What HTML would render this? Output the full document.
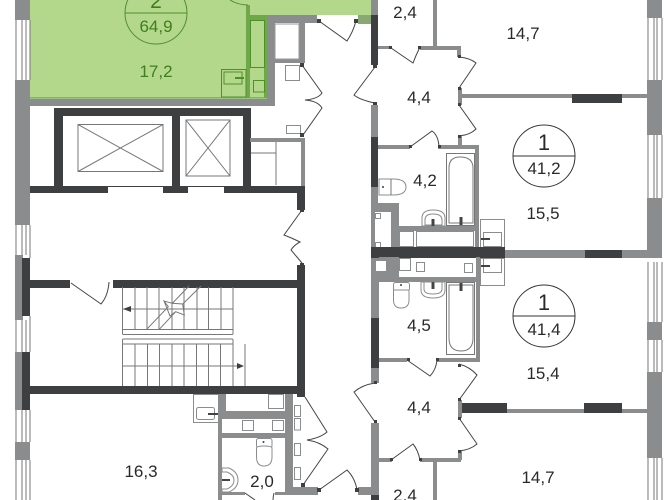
<!DOCTYPE html>
<html><head><meta charset="utf-8"><style>
html,body{margin:0;padding:0;background:#fff}
svg{display:block}
text{font-family:"Liberation Sans",sans-serif;font-size:17px;fill:#2a2a2c;text-anchor:middle}
.g{fill:#8b8c8e}.d{fill:#3e3f41}
.t{fill:none;stroke:#777;stroke-width:1}
.b{fill:#fff;stroke:#8b8c8e;stroke-width:1}
.dr{fill:none;stroke:#444;stroke-width:1}
.n{fill:#3e3f41}
.gl{fill:none;stroke:#4f8f2a;stroke-width:1}
</style></head><body>
<svg width="672" height="500" viewBox="0 0 672 500" xmlns="http://www.w3.org/2000/svg">
<!-- green apartment -->
<rect x="30" y="0" width="218" height="98" fill="#b3d88c"/>
<rect x="248" y="0" width="124" height="15" fill="#b3d88c"/>
<rect x="248" y="15" width="18" height="83" fill="#b3d88c"/>
<rect x="246" y="5" width="4" height="93" fill="#6fa84a"/>
<rect x="250" y="15" width="17" height="5" fill="#6fa84a"/>
<rect x="264" y="20" width="3" height="78" fill="#6fa84a"/>
<rect x="30" y="97" width="237" height="2" fill="#6fa84a" opacity=".7"/>
<rect x="250.500" y="20.500" width="14" height="47" class="gl"/>
<rect x="253.500" y="80.500" width="11" height="11.500" class="gl"/>
<rect x="221.500" y="69.500" width="24.500" height="27.500" class="gl"/>
<rect x="224" y="72" width="18" height="12" class="gl"/>
<path d="M235 78H244" stroke="#4f8f2a" stroke-width="2"/>
<circle cx="156" cy="13" r="31" class="gl"/>
<path d="M125 13H187" class="gl"/>
<text x="156" y="8" style="font-size:21px;fill:#3f7f1b">2</text>
<text x="156" y="32" style="fill:#3f7f1b">64,9</text>
<text x="156" y="77" style="fill:#3f7f1b">17,2</text>
<path d="M230 0Q238 5 248 5" class="gl"/>

<!-- left facade -->
<rect x="15" y="0" width="15" height="20" class="g"/>
<rect x="15" y="80" width="15" height="145" class="g"/>
<rect x="15" y="255" width="8" height="65" class="g"/>
<rect x="22" y="258" width="8" height="58" class="d"/>
<rect x="15" y="352" width="8" height="58" class="g"/>
<rect x="22" y="352" width="8" height="58" class="d"/>
<rect x="15" y="442" width="15" height="18" class="g"/>
<path d="M16 20V80M22 20V80M26 20V80M30 20V80M16 225V255M22 225V255M26 225V255M30 225V258M16 320V352M22 320V352M26 320V352M30 316V352M16 410V442M22 410V442M26 410V442M30 410V442M16 460V500M22 460V500M26 460V500M30 460V500" class="t"/>

<!-- top centre walls -->
<rect x="30" y="99" width="244" height="7" class="g"/>
<rect x="267" y="15" width="8" height="91" class="g"/>
<rect x="267" y="15" width="50" height="8" class="g"/>
<rect x="299" y="22" width="6" height="41" class="g"/>
<rect x="274" y="59" width="28" height="4" class="g"/>
<rect x="275" y="24" width="24" height="35" fill="#fff" stroke="#999" stroke-width="1"/>
<rect x="285.500" y="65.500" width="14" height="15" class="b"/>
<rect x="286.500" y="125.500" width="14" height="8" class="b"/>

<!-- lifts -->
<rect x="54" y="108" width="9" height="85" class="d"/>
<rect x="54" y="108" width="197" height="8" class="d"/>
<rect x="172" y="116" width="8" height="72" class="d"/>
<rect x="243" y="108" width="8" height="85" class="d"/>
<rect x="30" y="186" width="275" height="7" class="d"/>
<rect x="108" y="187" width="55" height="6" fill="#fff"/>
<rect x="188" y="187" width="36" height="6" fill="#fff"/>
<rect x="78" y="124.500" width="85" height="47" class="t"/>
<path d="M78 124.500L163 171.500M163 124.500L78 171.500" class="t"/>
<rect x="186" y="120" width="44" height="56" class="t"/>
<path d="M186 120L230 176M230 120L186 176" class="t"/>
<rect x="250" y="138" width="55" height="4" class="g"/>
<rect x="301" y="138" width="4" height="48" class="g"/>
<path d="M251 153H276M276 142V185" class="t"/>
<rect x="297" y="186" width="8" height="24" class="d"/>

<!-- stairs -->
<rect x="30" y="280" width="40" height="8" class="d"/>
<rect x="113" y="280" width="185" height="8" class="d"/>
<rect x="297" y="265" width="8" height="132" class="d"/>
<rect x="23" y="386" width="282" height="8" class="d"/>
<path d="M122.500 287V330M135 287V330M147 287V330M159 287V330M172 287V330M184 287V330M197 287V330M208.500 287V330M221 287V330M233 287V330M122 309H233" class="t"/>
<rect x="122.500" y="329.500" width="110.500" height="5" rx="1" class="t"/>
<rect x="122.500" y="339" width="110.500" height="5" rx="1" class="t"/>
<path d="M122.500 344V386M135 344V386M147.500 344V386M159.500 344V386M172 344V386M184 344V386M196.500 344V386M208.500 344V386M220.500 344V386M233 344V386M122 366H238M245 344V386" class="t"/>
<path d="M146.700 329.300L168.300 306.700L164 301L172.300 303.300L189 286M201 286L182.700 304L184.300 315L175.700 311.700L159.300 329.300M164 301L170 316L175.700 311.700M172.300 303.300L182.700 304" class="t"/>
<path d="M123 309L131 306V312Z" class="n"/>
<path d="M244 366L237 363V369Z" class="n"/>

<!-- lower centre block -->
<rect x="193.500" y="394.500" width="25" height="28" class="b"/>
<rect x="196.500" y="407.500" width="18" height="12" rx="2" class="b"/>
<path d="M208 414H218" stroke="#444" stroke-width="2"/>
<rect x="218" y="394" width="8" height="25" class="g"/>
<rect x="218" y="394" width="4" height="106" class="g"/>
<rect x="285" y="394" width="8" height="96" class="g"/>
<rect x="218" y="411" width="75" height="8" class="g"/>
<rect x="218" y="433" width="70" height="5" class="g"/>
<rect x="268.500" y="394.500" width="15" height="14" class="b"/>
<rect x="242.500" y="420.500" width="11" height="10" class="b"/>
<rect x="272.500" y="420.500" width="11" height="10" class="b"/>
<rect x="294.500" y="405.500" width="6" height="11" class="b"/>
<rect x="294.500" y="418.500" width="6" height="11.500" class="b"/>
<rect x="294.500" y="443.500" width="6" height="12" class="b"/>
<rect x="294.500" y="467.500" width="6" height="12" class="b"/>
<rect x="256.500" y="438.500" width="15.500" height="9" rx="2" class="b"/>
<path d="M256.500 448Q256.500 446 264 446Q272 446 272 448V457Q272 466 264 466Q256.500 466 256.500 457Z" class="b"/>
<circle cx="263.500" cy="442" r="1" class="n"/>
<path d="M222 468H229Q238 472 238 480Q238 488 229 492H222Z" class="b"/>
<path d="M222 472H227Q234 475 234 480Q234 486 227 489H222" class="b"/>
<path d="M222 480H230" stroke="#444" stroke-width="2"/>
<rect x="285" y="487" width="33" height="8" class="g"/>
<rect x="222" y="492" width="23" height="3" class="g"/>
<rect x="275" y="492" width="10" height="3" class="g"/>
<path d="M245 493L255 500M274 493Q273 497 273 500" class="dr"/>

<!-- right facade -->
<rect x="647" y="0" width="15" height="18" class="g"/>
<rect x="647" y="80" width="15" height="55" class="g"/>
<rect x="647" y="198" width="15" height="60" class="g"/>
<rect x="647" y="322" width="15" height="18" class="g"/>
<rect x="647" y="372" width="15" height="86" class="g"/>
<path d="M648 18V80M654 18V80M657 18V80M662 18V80M648 135V198M654 135V198M657 135V198M662 135V198M648 262V322M654 262V322M657 262V322M662 262V322M648 340V372M654 340V372M657 340V372M662 340V372M648 458V500M654 458V500M657 458V500M662 458V500" class="t"/>

<!-- upper right apartment -->
<rect x="371" y="0" width="7" height="17" class="g"/>
<rect x="371" y="15" width="7" height="50" class="d"/>
<rect x="358" y="15" width="13" height="9" fill="#8aa872"/>
<rect x="433" y="0" width="4" height="46" class="g"/>
<rect x="378" y="46" width="13" height="3" class="g"/>
<rect x="420" y="46" width="39" height="4" class="g"/>
<rect x="457" y="46" width="4" height="11" class="g"/>
<rect x="371" y="105" width="7" height="32" class="g"/>
<rect x="371" y="137" width="7" height="50" class="d"/>
<rect x="371" y="187" width="7" height="64" class="g"/>
<rect x="458" y="88" width="4" height="17" class="g"/>
<rect x="460" y="94" width="187" height="4" class="g"/>
<rect x="572" y="94" width="50" height="9" class="d"/>
<rect x="458" y="136" width="4" height="10" class="g"/>
<rect x="378" y="145" width="32" height="4" class="g"/>
<rect x="438" y="145" width="41" height="4" class="g"/>
<rect x="475" y="145" width="4" height="102" class="g"/>
<rect x="446.500" y="153.500" width="28" height="72" fill="#fff" stroke="#777"/>
<path d="M449 223V168Q449 157 460 157Q473 157 473 168V223Z" fill="#fff" stroke="#777"/>
<path d="M461 217V225" stroke="#444" stroke-width="3"/>
<path d="M379 179H393Q406 179 406 187Q406 195 393 195H379Z" class="b"/>
<path d="M391 179V195" class="t"/>
<circle cx="383" cy="187" r="1" class="n"/>
<path d="M422 226V218Q422 210 433 210Q445 210 445 218V226Z" class="b"/>
<path d="M425 225V220Q425 214 433 214Q442 214 442 220V225Z" class="b"/>
<path d="M433 219V226" stroke="#444" stroke-width="3"/>
<rect x="378" y="203" width="21" height="9" class="g"/>
<rect x="391" y="203" width="8" height="45" class="g"/>
<rect x="375" y="212" width="16" height="36" fill="#fff"/>
<rect x="375.500" y="213.500" width="5" height="5" class="b"/>
<rect x="375.500" y="242.500" width="5" height="5" class="b"/>
<rect x="399" y="226" width="77" height="5" class="g"/>
<rect x="399.500" y="231.500" width="14" height="15" class="b"/>
<rect x="416.500" y="231.500" width="57" height="15" class="b"/>
<rect x="480.500" y="219.500" width="24" height="28" class="b"/>
<rect x="483.500" y="232.500" width="18" height="14" class="b"/>
<path d="M481 239H490" stroke="#444" stroke-width="2"/>
<circle cx="544" cy="156" r="31" fill="none" stroke="#333"/>
<path d="M513 156H575" stroke="#333"/>

<!-- centre band -->
<rect x="371" y="247" width="134" height="11" class="d"/>
<rect x="505" y="250" width="80" height="8" class="g"/>
<rect x="585" y="250" width="37" height="8" class="d"/>
<rect x="622" y="250" width="26" height="8" class="g"/>

<!-- lower right apartment -->
<rect x="371" y="258" width="8" height="60" class="g"/>
<rect x="371" y="318" width="8" height="50" class="d"/>
<rect x="371" y="368" width="8" height="15" class="g"/>
<rect x="379" y="257" width="20" height="25" class="g"/>
<rect x="399" y="277" width="77" height="5" class="g"/>
<rect x="375.500" y="260.500" width="11" height="11" class="b"/>
<rect x="399.500" y="258.500" width="11" height="12" class="b"/>
<rect x="416.500" y="262.500" width="8" height="9" class="b"/>
<rect x="464.500" y="263.500" width="8" height="9" class="b"/>
<rect x="476" y="257" width="4" height="105" class="g"/>
<rect x="379" y="358" width="28" height="4" class="g"/>
<rect x="437" y="358" width="42" height="4" class="g"/>
<rect x="446.500" y="282.500" width="28" height="72" fill="#fff" stroke="#777"/>
<path d="M449 285V338Q449 351 461 351Q473 351 473 338V285Z" fill="#fff" stroke="#777"/>
<path d="M461 283V291" stroke="#444" stroke-width="3"/>
<rect x="393.500" y="282.500" width="16" height="8" rx="2" class="b"/>
<path d="M393.500 290H409V300Q409 308 401 308Q393.500 308 393.500 300Z" class="b"/>
<circle cx="401" cy="285" r="1" class="n"/>
<path d="M421 282V290Q421 298 433 298Q445 298 445 290V282Z" class="b"/>
<path d="M424 282V289Q424 294 433 294Q442 294 442 289V282Z" class="b"/>
<path d="M433 282V289" stroke="#444" stroke-width="3"/>
<rect x="480.500" y="258.500" width="24" height="27" class="b"/>
<rect x="483.500" y="258.500" width="18" height="14" class="b"/>
<path d="M481 266H490" stroke="#444" stroke-width="2"/>
<circle cx="544" cy="316" r="31" fill="none" stroke="#333"/>
<path d="M513 316H575" stroke="#333"/>
<rect x="458" y="403" width="49" height="10" class="d"/>
<rect x="507" y="409" width="78" height="4" class="g"/>
<rect x="584" y="403" width="38" height="10" class="d"/>
<rect x="622" y="409" width="26" height="4" class="g"/>
<rect x="458" y="400" width="4" height="18" class="g"/>
<rect x="371" y="423" width="8" height="72" class="g"/>
<rect x="378" y="458" width="14" height="4" class="g"/>
<rect x="420" y="458" width="41" height="4" class="g"/>
<rect x="458" y="451" width="4" height="9" class="g"/>
<rect x="433" y="462" width="4" height="38" class="g"/>
<rect x="358" y="487" width="14" height="8" class="g"/>
<rect x="371" y="495" width="8" height="5" class="d"/>

<!-- doors -->
<g class="dr">
<path d="M302 65L322 93Q318 99 305 100Q318 101 322 108L303 135"/>
<path d="M302 210L284 235Q292 238 300 242Q294 245 291 250L302 263"/>
<path d="M305 397L327 432Q320 438 307 440Q320 442 328 449L303 485"/>
<path d="M319 490L347 470Q355 478 357 490"/>
<path d="M319 21L347 41Q353 32 356 21"/>
<path d="M391 48L413 63Q416 55 420 47"/>
<path d="M459 57Q470 58 476 63L459 88"/>
<path d="M375 67L354 95Q360 100 375 103"/>
<path d="M459 105L476 129Q470 135 459 136"/>
<path d="M410 147L432 131Q438 135 439 146"/>
<path d="M71 283L101 304Q108 296 109 282"/>
<path d="M407 360L430 376Q436 370 437 360"/>
<path d="M459 364Q470 367 477 375L459 400"/>
<path d="M375 383Q362 385 354 392L375 422"/>
<path d="M459 418L477 444Q470 450 459 451"/>
<path d="M391 460L413 444Q418 450 420 460"/>
</g>
<g class="n">
<rect x="317" y="19" width="4" height="4"/><rect x="300" y="63" width="4" height="4"/><rect x="300" y="133" width="4" height="4"/>
<rect x="300" y="208" width="4" height="4"/><rect x="300" y="263" width="4" height="4"/>
<rect x="301" y="483" width="4" height="4"/><rect x="317" y="488" width="4" height="4"/>
<rect x="354" y="19" width="4" height="4"/><rect x="389" y="46" width="3" height="3"/><rect x="418" y="46" width="3" height="3"/>
<rect x="458" y="55" width="3" height="3"/><rect x="458" y="87" width="3" height="3"/><rect x="373" y="65" width="4" height="3"/>
<rect x="373" y="102" width="4" height="3"/><rect x="458" y="103" width="3" height="3"/><rect x="458" y="135" width="3" height="3"/>
<rect x="409" y="145" width="3" height="3"/><rect x="438" y="145" width="3" height="3"/><rect x="407" y="358" width="3" height="3"/>
<rect x="436" y="358" width="3" height="3"/><rect x="458" y="364" width="3" height="3"/><rect x="458" y="398" width="3" height="3"/>
<rect x="374" y="381" width="3" height="3"/><rect x="374" y="420" width="3" height="3"/><rect x="458" y="417" width="3" height="3"/>
<rect x="458" y="450" width="3" height="3"/><rect x="390" y="458" width="3" height="3"/><rect x="419" y="458" width="3" height="3"/>
<rect x="355" y="488" width="4" height="4"/>
</g>

<!-- labels -->
<text x="405" y="18">2,4</text>
<text x="523" y="39">14,7</text>
<text x="419" y="103">4,4</text>
<text x="425" y="186">4,2</text>
<text x="543" y="219">15,5</text>
<text x="544" y="150" style="font-size:22px">1</text>
<text x="544" y="174">41,2</text>
<text x="544" y="310" style="font-size:22px">1</text>
<text x="544" y="335">41,4</text>
<text x="419" y="331">4,5</text>
<text x="543" y="379">15,4</text>
<text x="419" y="413">4,4</text>
<text x="538" y="483">14,7</text>
<text x="405" y="501">2,4</text>
<text x="141" y="477">16,3</text>
<text x="262" y="487">2,0</text>
</svg>
</body></html>
